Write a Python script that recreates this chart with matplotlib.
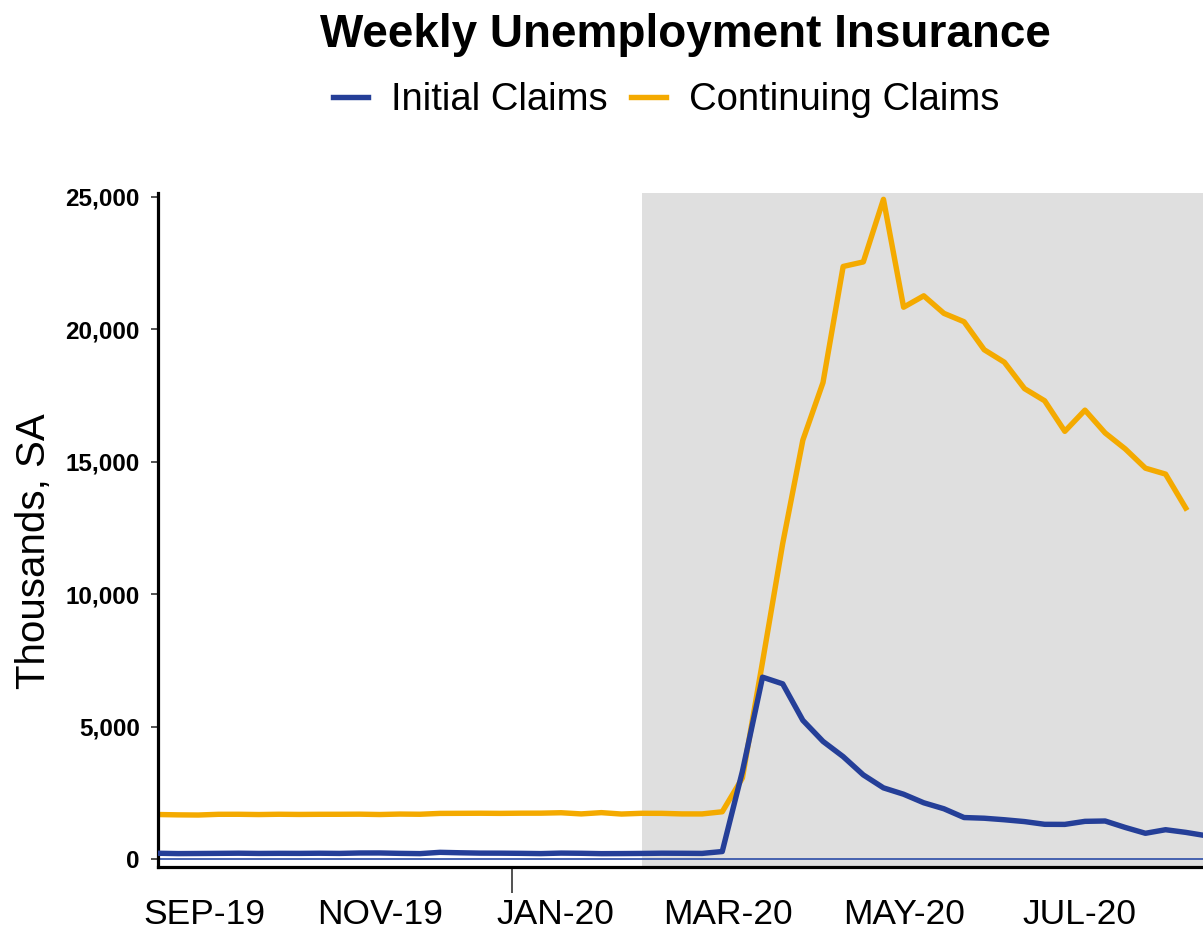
import matplotlib
matplotlib.use("Agg")
import matplotlib.pyplot as plt
import matplotlib.dates as mdates
from matplotlib.ticker import MultipleLocator, FuncFormatter, NullFormatter
import pandas as pd

# ---- data (thousands, seasonally adjusted, week ending dates) ----
week_start = "2019-08-31"
initial_claims = [
    217, 204, 208, 213, 219, 210, 214, 212, 218, 211, 227, 228, 213, 203, 252, 235, 222, 220,
    214, 204, 223, 216, 202, 205, 210, 219, 216, 211, 282, 3307, 6867, 6615, 5237, 4442, 3867,
    3176, 2687, 2446, 2123, 1897, 1566, 1540, 1482, 1413, 1310, 1307, 1422, 1435, 1191, 971,
    1106, 1006, 881,
]
continuing_claims = [
    1680, 1667, 1661, 1688, 1689, 1679, 1690, 1683, 1688, 1689, 1693, 1680, 1697, 1690, 1722,
    1725, 1728, 1723, 1730, 1731, 1747, 1703, 1751, 1698, 1726, 1724, 1703, 1702, 1784, 3059,
    7446, 11914, 15819, 17992, 22377, 22548, 24912, 20838, 21268, 20606, 20289, 19231, 18760,
    17764, 17304, 16151, 16951, 16090, 15486, 14759, 14535, 13254,
]
series_names = ["Initial Claims", "Continuing Claims"]
title = "Weekly Unemployment Insurance"
y_label = "Thousands, SA"
shade_start = "2020-02-15"
shade_end = "2020-12-31"

dates_ic = pd.date_range(week_start, periods=len(initial_claims), freq="7D")
dates_cc = pd.date_range(week_start, periods=len(continuing_claims), freq="7D")

BLUE = "#253f98"
ORANGE = "#f4aa00"
FONT = "Liberation Sans"

plt.rcParams["font.family"] = [FONT, "DejaVu Sans"]

fig = plt.figure(figsize=(12.03, 9.30), dpi=100)
ax = fig.add_axes([158 / 1203, 63 / 930, 1 - 158 / 1203, (867 - 193) / 930])

ax.axvspan(pd.Timestamp(shade_start), pd.Timestamp(shade_end), color="#dfdfdf", lw=0, zorder=0)
ax.axhline(0, color="#3a58ab", lw=1.3, zorder=1)

l2, = ax.plot(dates_cc, continuing_claims, color=ORANGE, lw=3.9, zorder=2, label=series_names[1])
l1, = ax.plot(dates_ic, initial_claims, color=BLUE, lw=3.9, zorder=3, label=series_names[0])

ax.set_xlim(pd.Timestamp("2019-08-31"), pd.Timestamp("2020-08-28"))
ax.set_ylim(-302, 25151)

for s in ["top", "right"]:
    ax.spines[s].set_visible(False)
for s in ["left", "bottom"]:
    ax.spines[s].set_linewidth(2.3)
    ax.spines[s].set_color("black")

ax.yaxis.set_major_locator(MultipleLocator(5000))
ax.yaxis.set_major_formatter(FuncFormatter(lambda v, p: f"{v:,.0f}"))
ax.tick_params(axis="y", direction="out", length=5, width=1.2, color="#333333", pad=8,
               labelsize=17.5)
for lbl in ax.get_yticklabels():
    lbl.set_fontweight("bold")

ax.xaxis.set_major_locator(mdates.YearLocator())
ax.xaxis.set_major_formatter(NullFormatter())
ax.xaxis.set_minor_locator(mdates.MonthLocator(bymonth=[1, 3, 5, 7, 9, 11], bymonthday=16))
ax.xaxis.set_minor_formatter(FuncFormatter(lambda v, p: mdates.num2date(v).strftime("%b-%y").upper()))
ax.tick_params(axis="x", which="major", direction="out", length=19, width=1.2, color="#333333")
ax.tick_params(axis="x", which="minor", length=0, pad=22, labelsize=25.5)

fig.text(685 / 1203, 1 - 47 / 930, title, ha="center", va="baseline", fontsize=33,
         fontweight="bold")
fig.legend([l1, l2], series_names, loc="center", bbox_to_anchor=(666 / 1203, 1 - 100 / 930),
           ncol=2, frameon=False, fontsize=27.5, handlelength=0.92, handletextpad=0.6,
           columnspacing=0.6, borderaxespad=0)
fig.text(34 / 1203, 1 - 551 / 930, y_label, rotation=90, ha="center", va="center", fontsize=29)

fig.savefig("out.png", dpi=100)
